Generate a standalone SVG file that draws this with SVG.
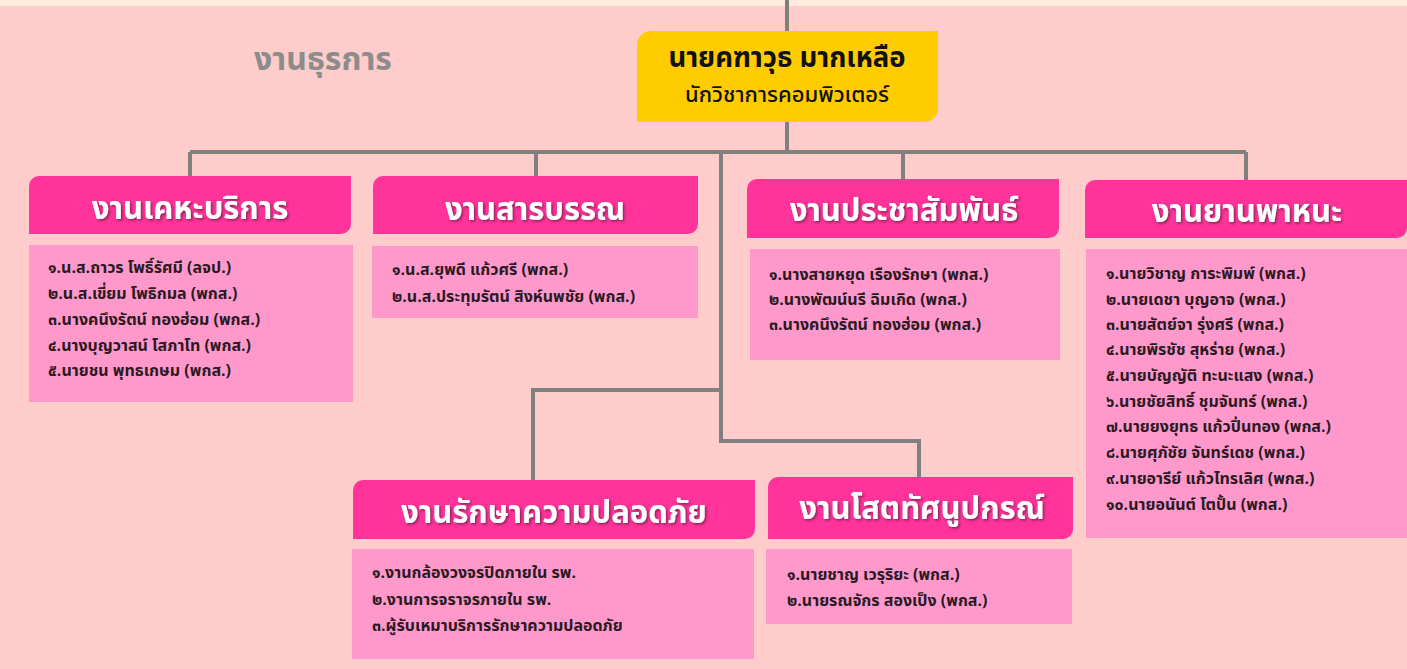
<svg xmlns="http://www.w3.org/2000/svg" width="1407" height="669" viewBox="0 0 1407 669">
<defs>
<filter id="sh" x="-10%" y="-30%" width="120%" height="160%">
<feDropShadow dx="1.5" dy="1.5" stdDeviation="0.8" flood-color="#5a1a3a" flood-opacity="0.7"/>
</filter>
<style>
.hdr{fill:#FF3399}
.body{fill:#FF99CC}
.ht{font-family:"Noto Sans Thai","Tahoma","Noto Sans",sans-serif;font-weight:bold;font-size:31px;fill:#fff;text-anchor:middle;dominant-baseline:central;filter:url(#sh)}
.bt{font-family:"Noto Sans Thai","Tahoma","Noto Sans",sans-serif;font-weight:bold;font-size:16px;fill:#2a1a22;dominant-baseline:central}
.con{fill:none;stroke:#808080;stroke-width:4}
</style>
</defs>
<rect x="0" y="0" width="1407" height="669" fill="#FFCCCC"/>
<rect x="0" y="0" width="1407" height="6" fill="#FFEBDC"/>
<g id="connectors">
<path class="con" d="M787,0 V31"/>
<path class="con" d="M787,122 V152"/>
<path class="con" d="M190,152 H1246"/>
<path class="con" d="M190,152 V177"/>
<path class="con" d="M536,152 V177"/>
<path class="con" d="M903,152 V180"/>
<path class="con" d="M1246,152 V181"/>
<path class="con" d="M721,152 V441 H919 V478"/>
<path class="con" d="M721,390 H533 V481"/>
</g>
<text x="323" y="60" font-family="Noto Sans Thai, Tahoma, Noto Sans, sans-serif" font-weight="bold" font-size="32" fill="#8C8C8C" text-anchor="middle" dominant-baseline="central">งานธุรการ</text>
<g id="head">
<path d="M651,31 H938 V108 A14,14 0 0 1 924,122 H637 V45 A14,14 0 0 1 651,31 Z" fill="#FFCC00"/>
<text x="787" y="58" font-family="Noto Sans Thai, Tahoma, Noto Sans, sans-serif" font-weight="bold" font-size="27.5" fill="#111" text-anchor="middle" dominant-baseline="central">นายคฑาวุธ มากเหลือ</text>
<text x="787" y="95" font-family="Noto Sans Thai, Tahoma, Noto Sans, sans-serif" font-weight="500" font-size="22" fill="#111" text-anchor="middle" dominant-baseline="central">นักวิชาการคอมพิวเตอร์</text>
</g>
<g id="n1">
<path class="hdr" d="M39,176 H351 V224 A10,10 0 0 1 341,234 H29 V186 A10,10 0 0 1 39,176 Z"/>
<text class="ht" x="190" y="209">งานเคหะบริการ</text>
<rect class="body" x="29" y="245" width="324" height="157"/>
<text class="bt" x="48" y="268">๑.น.ส.ถาวร โพธิ์รัศมี (ลจป.)</text>
<text class="bt" x="48" y="294">๒.น.ส.เขี่ยม โพธิกมล (พกส.)</text>
<text class="bt" x="48" y="320">๓.นางคนึงรัตน์ ทองฮ่อม (พกส.)</text>
<text class="bt" x="48" y="346">๔.นางบุญวาสน์ โสภาโท (พกส.)</text>
<text class="bt" x="48" y="371">๕.นายชน พุทธเกษม (พกส.)</text>
</g>
<g id="n2">
<path class="hdr" d="M383,176 H698 V224 A10,10 0 0 1 688,234 H373 V186 A10,10 0 0 1 383,176 Z"/>
<text class="ht" x="535" y="210">งานสารบรรณ</text>
<rect class="body" x="372" y="246" width="326" height="72"/>
<text class="bt" x="392" y="270">๑.น.ส.ยุพดี  แก้วศรี (พกส.)</text>
<text class="bt" x="392" y="297">๒.น.ส.ประทุมรัตน์ สิงห์นพชัย (พกส.)</text>
</g>
<g id="n3">
<path class="hdr" d="M757,179 H1059 V228 A10,10 0 0 1 1049,238 H747 V189 A10,10 0 0 1 757,179 Z"/>
<text class="ht" x="904" y="211">งานประชาสัมพันธ์</text>
<rect class="body" x="750" y="249" width="310" height="111"/>
<text class="bt" x="769" y="275">๑.นางสายหยุด เรืองรักษา (พกส.)</text>
<text class="bt" x="769" y="300">๒.นางพัฒน์นรี ฉิมเกิด (พกส.)</text>
<text class="bt" x="769" y="325">๓.นางคนึงรัตน์ ทองฮ่อม (พกส.)</text>
</g>
<g id="n4">
<path class="hdr" d="M1095,180 H1407 V228 A10,10 0 0 1 1397,238 H1085 V190 A10,10 0 0 1 1095,180 Z"/>
<text class="ht" x="1247" y="212">งานยานพาหนะ</text>
<rect class="body" x="1086" y="249" width="321" height="289"/>
<text class="bt" x="1106" y="274">๑.นายวิชาญ การะพิมพ์ (พกส.)</text>
<text class="bt" x="1106" y="300">๒.นายเดชา บุญอาจ (พกส.)</text>
<text class="bt" x="1106" y="325">๓.นายสัตย์จา รุ่งศรี (พกส.)</text>
<text class="bt" x="1106" y="350">๔.นายพิรชัช สุหร่าย (พกส.)</text>
<text class="bt" x="1106" y="376">๕.นายบัญญัติ ทะนะแสง (พกส.)</text>
<text class="bt" x="1106" y="402">๖.นายชัยสิทธิ์ ชุมจันทร์ (พกส.)</text>
<text class="bt" x="1106" y="427">๗.นายยงยุทธ แก้วปิ่นทอง (พกส.)</text>
<text class="bt" x="1106" y="453">๘.นายศุภัชัย จันทร์เดช (พกส.)</text>
<text class="bt" x="1106" y="479">๙.นายอารีย์ แก้วไทรเลิศ (พกส.)</text>
<text class="bt" x="1106" y="505">๑๐.นายอนันต์ โตปั้น (พกส.)</text>
</g>
<g id="n5">
<path class="hdr" d="M363,480 H755 V529 A10,10 0 0 1 745,539 H353 V490 A10,10 0 0 1 363,480 Z"/>
<text class="ht" x="554" y="513">งานรักษาความปลอดภัย</text>
<rect class="body" x="352" y="549" width="402" height="110"/>
<text class="bt" x="372" y="573">๑.งานกล้องวงจรปิดภายใน รพ.</text>
<text class="bt" x="372" y="600">๒.งานการจราจรภายใน รพ.</text>
<text class="bt" x="372" y="626">๓.ผู้รับเหมาบริการรักษาความปลอดภัย</text>
</g>
<g id="n6">
<path class="hdr" d="M778,477 H1073 V529 A10,10 0 0 1 1063,539 H768 V487 A10,10 0 0 1 778,477 Z"/>
<text class="ht" x="922" y="509">งานโสตทัศนูปกรณ์</text>
<rect class="body" x="766" y="549" width="306" height="75"/>
<text class="bt" x="787" y="575">๑.นายชาญ เวรุริยะ (พกส.)</text>
<text class="bt" x="787" y="601">๒.นายรณจักร สองเป็ง (พกส.)</text>
</g>
</svg>
